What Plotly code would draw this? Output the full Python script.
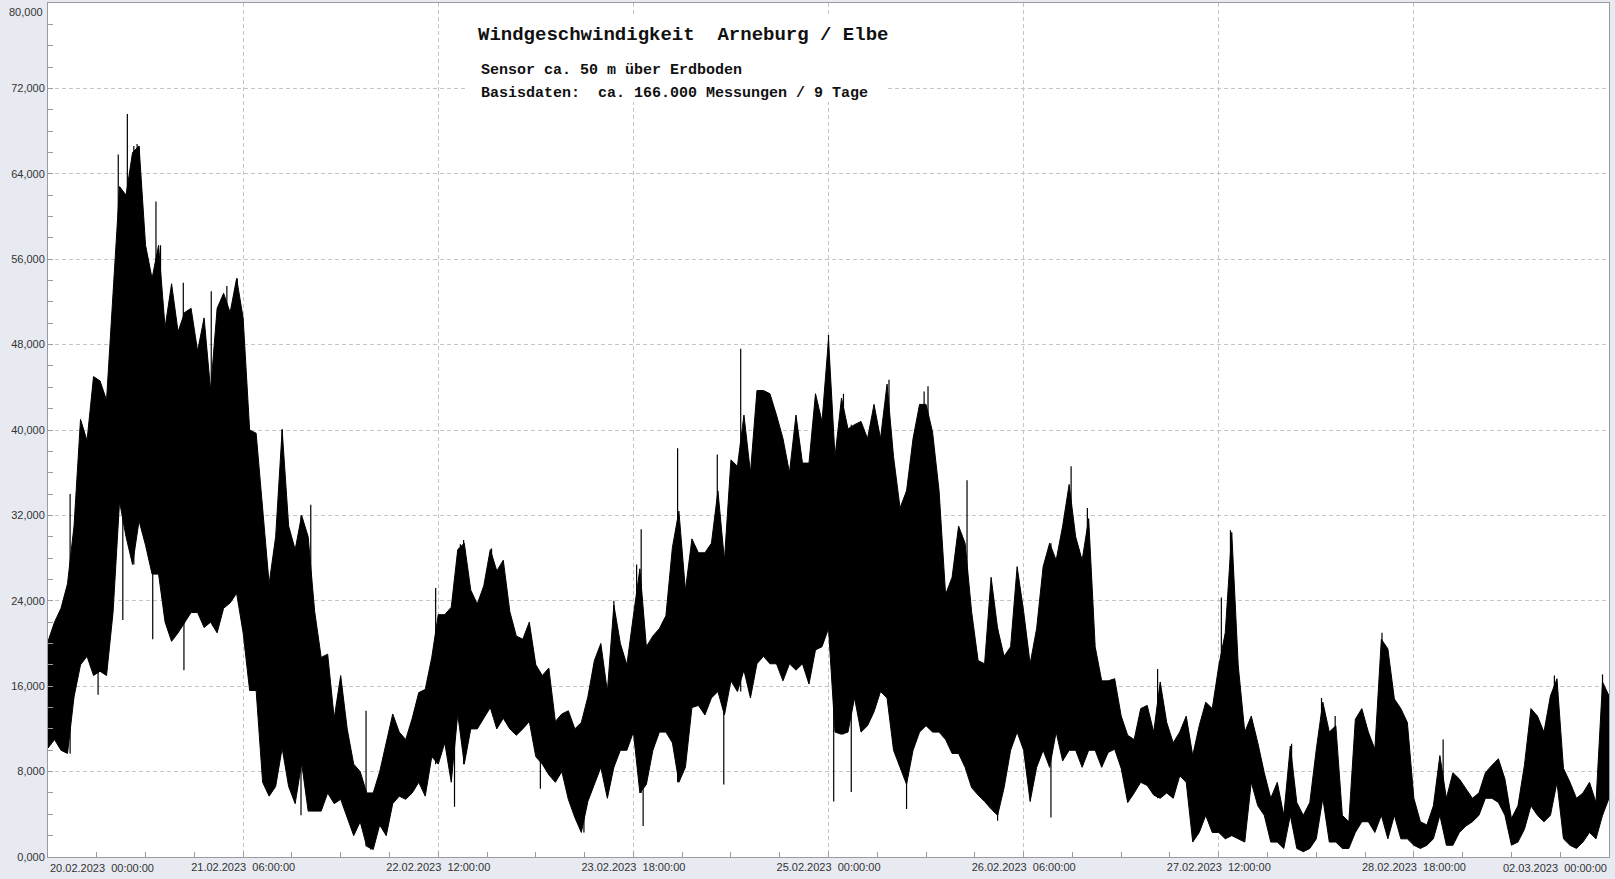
import numpy as np
import pandas as pd
import plotly.graph_objects as go

# ---------------- data (km/h), hourly envelope ----------------
start = pd.Timestamp("2023-02-20 00:00:00")
times = pd.date_range(start, periods=241, freq="h")

hi = [20.2, 22, 23.3, 25.6, 31, 41, 39, 45, 44.6, 42.8,
      52.8, 62.8, 62, 66, 66.6, 57.3, 54.2, 57.3, 49.6, 53.7,
      49.2, 51, 51.4, 47.4, 50.5, 43.7, 51.4, 52.8, 51, 54.2,
      50.5, 40, 39.7, 32.4, 25.6, 30, 40, 31, 28.8, 32,
      30, 23, 18.7, 19, 13, 17, 12, 8.7, 8, 6,
      6, 8, 10.7, 13.4, 11.7, 11, 13, 15.4, 15.7, 18.7,
      22.7, 22.7, 23.4, 28.8, 29.4, 25, 23.7, 25.4, 28.8, 26.8,
      27.8, 23, 20.7, 20.4, 22, 18, 17, 17.7, 12.7, 13.4,
      13.7, 12, 12.6, 15, 18.4, 20, 15.5, 23.6, 20, 18,
      22.6, 27, 19.7, 20.7, 21.4, 22.6, 29, 32.4, 25, 29.8,
      28.5, 28.5, 29.4, 34.3, 27.8, 37.2, 36.6, 41.4, 36, 43.7,
      43.7, 43.4, 41.4, 39.2, 36, 41.4, 36.9, 36.9, 43.4, 40.8,
      48.5, 37.5, 43, 40.1, 40.5, 40.8, 39.2, 42.4, 39.2, 44.3,
      37.5, 32.7, 34.3, 39.2, 42.4, 42.4, 39.8, 34.3, 24.6, 26.2,
      31, 29.4, 23, 18.4, 18.1, 26.2, 21.4, 18.8, 19.7, 27.2,
      23, 18.1, 21.4, 27.2, 29.4, 27.8, 31, 34.9, 30, 27.8,
      31.7, 19.7, 16.5, 16.5, 16.7, 13.2, 11.4, 11, 13.9, 14.2,
      11.7, 16.4, 12.6, 10.7, 11.7, 13.2, 9.5, 12.3, 14.5, 13.9,
      17.9, 21, 30.4, 17.9, 11.7, 13.2, 10.7, 7.9, 5.5, 7,
      3.9, 10.4, 5.1, 3.9, 5.1, 10.1, 14.5, 11.7, 12.3, 3.9,
      3.3, 12.9, 13.9, 11.7, 10.1, 20.4, 19.5, 14.8, 13.9, 12.6,
      5.5, 3.3, 3, 4.8, 9.5, 5.5, 7.9, 7.3, 6.4, 5.5,
      6, 7.9, 8.6, 9.2, 7.3, 3.6, 4.8, 8.6, 13.9, 13.2,
      11.7, 15.1, 16.7, 8.3, 7, 5.5, 6, 7, 5.1, 16.4,
      15.1]

lo = [10.2, 11, 10, 9.7, 15, 18, 18.8, 17, 17.4, 17,
      22.9, 33.3, 30, 27.4, 31.5, 29.2, 26.5, 26.5, 22, 20.2,
      21, 22, 22.9, 22.9, 21.5, 22, 21, 23.3, 23.8, 24.7,
      21, 15.6, 15.6, 7, 5.7, 6.6, 10.2, 6.6, 5, 8.8,
      4.3, 4.3, 4.3, 6, 5, 5.4, 3.7, 2, 3.3, 1,
      0.7, 3, 2, 5, 5.7, 5.4, 6, 7, 5.7, 9.4,
      8.7, 10.7, 7, 13.4, 8.7, 12, 12, 13, 14, 12,
      13, 12, 11.4, 12, 12.7, 9.4, 8.7, 7.7, 7, 8,
      5.4, 3.7, 2.3, 5.2, 6.8, 8.4, 5.5, 8.4, 10, 10,
      11.7, 6, 6.8, 10, 11.7, 11.7, 10.7, 7, 8.4, 14,
      14.2, 13.3, 14.9, 15.5, 13.3, 16.5, 15.5, 17.5, 14.9, 18.1,
      18.8, 18.1, 18.1, 16.5, 18.1, 17.5, 18.1, 16.2, 19.4, 19.7,
      21.4, 11.7, 11.5, 11.7, 14.9, 11.7, 12.3, 13.6, 15.5, 14.9,
      10, 8.4, 6.8, 10, 11.7, 12.3, 11.7, 11.7, 11, 9.7,
      9.7, 8.4, 6.5, 5.8, 5.2, 4.5, 3.9, 6.5, 10, 11.7,
      10, 5.2, 8.4, 10, 8.4, 11.7, 9, 10, 10, 8.4,
      10, 10, 8.4, 9.8, 10.1, 8.3, 5.1, 6, 7, 6.7,
      5.8, 5.5, 6, 5.5, 7.6, 7, 1.4, 2.3, 3.9, 2.3,
      2.3, 1.7, 2, 1.7, 1.4, 7, 4.8, 3.9, 1.4, 1.4,
      0.8, 3.9, 0.8, 0.5, 0.8, 1.7, 5.5, 1.4, 1.4, 0.8,
      0.8, 2.3, 3.3, 3.3, 2.3, 3.9, 1.7, 3.9, 1.7, 1.7,
      1.1, 0.8, 1.1, 1.7, 3.9, 1.1, 1.1, 2.3, 2.9, 3.3,
      3.9, 5.5, 5.5, 5.1, 3.9, 1.1, 1.4, 2.6, 4.8, 3.9,
      3.3, 3.9, 7, 1.7, 1.1, 0.8, 1.4, 2.3, 1.7, 3.9,
      5.5]

# individual spikes (hours after start, km/h)
spike_up_h = [3.4, 10.8, 12.2, 13.2, 13.7, 14.0, 16.6, 17.3, 20.8, 25.1, 27.5, 29.1, 36.0,
              40.4, 48.9, 59.6, 63.4, 63.9, 68.2, 87.0, 90.5, 91.2, 96.8, 102.9, 106.5,
              120.0, 122.3, 129.3, 134.7, 135.3, 141.3, 157.3, 159.8, 170.6, 180.4, 181.8,
              191.2, 195.8, 197.9, 205.1, 214.5, 231.6, 239.0]
spike_up_v = [34, 65.8, 69.6, 66.6, 66.8, 66.6, 61.4, 57.3, 53.8, 53, 53.5, 54.2, 40.1,
              33, 13.7, 25.2, 29.3, 29.7, 28.9, 24, 27.4, 30.7, 38.3, 37.7, 47.6,
              48.9, 43.4, 44.7, 43.6, 44.1, 35.3, 36.6, 32.7, 17.6, 24.3, 30.6,
              10.6, 14.9, 13.2, 21, 11, 17, 17.1]
spike_dn_h = [7.7, 11.5, 16.1, 20.9, 38.9, 49.6, 62.5, 75.7, 82.4, 91.5, 103.9, 120.8,
              123.5, 132.0, 146.0, 154.2]
spike_dn_v = [15.2, 22.2, 20.4, 17.5, 3.9, 0.7, 4.7, 6.4, 2.3, 2.9, 6.8, 5.2,
              6.1, 4.5, 3.4, 3.7]

x_tick_hours = [0, 30, 60, 90, 120, 150, 180, 210, 240]
y_ticks = [0, 8, 16, 24, 32, 40, 48, 56, 64, 72, 80]

title = "Windgeschwindigkeit  Arneburg / Elbe"
sub1 = "Sensor ca. 50 m über Erdboden"
sub2 = "Basisdaten:  ca. 166.000 Messungen / 9 Tage"

# ---------------- figure ----------------
W, H = 1615, 879
ML, MR, MT, MB = 48, 6, 3, 22
PW, PH = W - ML - MR, H - MT - MB
BG = "#e7eaf1"


def px(x):
    return (x - ML) / PW


def py(y):
    return (H - MB - y) / PH


fig = go.Figure()
fig.add_trace(go.Scatter(x=times, y=hi, mode="lines", line=dict(color="black", width=1),
                         hoverinfo="skip", showlegend=False))
fig.add_trace(go.Scatter(x=times, y=lo, mode="lines", line=dict(color="black", width=1),
                         fill="tonexty", fillcolor="black", hoverinfo="skip", showlegend=False))

sx, sy = [], []
for h, v in zip(spike_up_h, spike_up_v):
    t = start + pd.Timedelta(hours=h)
    sx += [t, t, None]
    sy += [v, lo[int(round(h))], None]
for h, v in zip(spike_dn_h, spike_dn_v):
    t = start + pd.Timedelta(hours=h)
    sx += [t, t, None]
    sy += [v, hi[int(round(h))], None]
fig.add_trace(go.Scatter(x=sx, y=sy, mode="lines", line=dict(color="black", width=1.2),
                         hoverinfo="skip", showlegend=False, connectgaps=False))

tick_dates = [start + pd.Timedelta(hours=h) for h in x_tick_hours]
tick_text = [d.strftime("%d.%m.%Y") + "\u00a0\u00a0" + d.strftime("%H:%M:%S") for d in tick_dates]
inner_text = [""] + tick_text[1:-1] + [""]

grid_col = "#c4c4c4"
axis_col = "#9a9aa0"
lab_font = dict(family="Liberation Sans, Arial", size=11, color="#333333")

fig.update_xaxes(
    type="date", automargin=False,
    range=[tick_dates[0], tick_dates[-1]],
    tickmode="array", tickvals=tick_dates, ticktext=inner_text,
    showgrid=True, gridcolor=grid_col, griddash="4px,3px", gridwidth=1,
    ticks="inside", ticklen=5, tickcolor=axis_col,
    minor=dict(tickmode="linear", tick0=tick_dates[0], dtick=7.5 * 3600 * 1000,
               ticks="inside", ticklen=5, tickcolor=axis_col, showgrid=False),
    showline=True, linecolor=axis_col, linewidth=1, mirror=True,
    tickfont=lab_font, zeroline=False,
)
fig.update_yaxes(
    range=[0, 80], automargin=False,
    tickmode="array", tickvals=y_ticks,
    ticktext=[f"{v:.3f}".replace(".", ",") if v != 80 else "" for v in y_ticks],
    showgrid=True, gridcolor=grid_col, griddash="4px,3px", gridwidth=1,
    ticks="inside", ticklen=5, tickcolor=axis_col,
    minor=dict(tickmode="linear", tick0=0, dtick=2, ticks="inside", ticklen=5,
               tickcolor=axis_col, showgrid=False),
    showline=True, linecolor=axis_col, linewidth=1, mirror=True,
    tickfont=lab_font, zeroline=False,
)

annotations = [
    dict(text="80,000", xref="paper", yref="paper", x=0, y=1, xanchor="right", yanchor="top",
         xshift=-3, yshift=-1, showarrow=False, font=lab_font),
    dict(text=tick_text[0], xref="paper", yref="paper", x=0, y=0, xanchor="left", yanchor="top",
         yshift=-3, showarrow=False, font=lab_font),
    dict(text=tick_text[-1], xref="paper", yref="paper", x=1, y=0, xanchor="right", yanchor="top",
         yshift=-3, showarrow=False, font=lab_font),
    dict(text="<b>" + title.replace(" ", "\u00a0") + "</b>", xref="paper", yref="paper",
         x=px(476), y=py(35), xanchor="left", yanchor="middle", showarrow=False,
         font=dict(family="Liberation Mono, Courier New, monospace", size=19, color="#111111")),
    dict(text="<b>" + sub1.replace(" ", "\u00a0") + "</b>", xref="paper", yref="paper",
         x=px(479), y=py(71), xanchor="left", yanchor="middle", showarrow=False,
         font=dict(family="Liberation Mono, Courier New, monospace", size=15, color="#111111")),
    dict(text="<b>" + sub2.replace(" ", "\u00a0") + "</b>", xref="paper", yref="paper",
         x=px(479), y=py(93), xanchor="left", yanchor="middle", showarrow=False,
         font=dict(family="Liberation Mono, Courier New, monospace", size=15, color="#111111")),
]

shapes = [dict(type="rect", xref="paper", yref="paper", x0=px(466), x1=px(888), y0=py(102), y1=py(14),
               fillcolor="white", line=dict(width=0), layer="above")]

fig.update_layout(
    width=W, height=H,
    margin=dict(l=ML, r=MR, t=MT, b=MB),
    paper_bgcolor=BG, plot_bgcolor="white",
    annotations=annotations, shapes=shapes,
    showlegend=False, hovermode=False,
)

fig.write_html(
    "out.html",
    config={"displayModeBar": False},
    post_script="document.body.style.margin='0';document.body.style.overflow='hidden';"
                "document.body.style.background='" + BG + "';",
)
